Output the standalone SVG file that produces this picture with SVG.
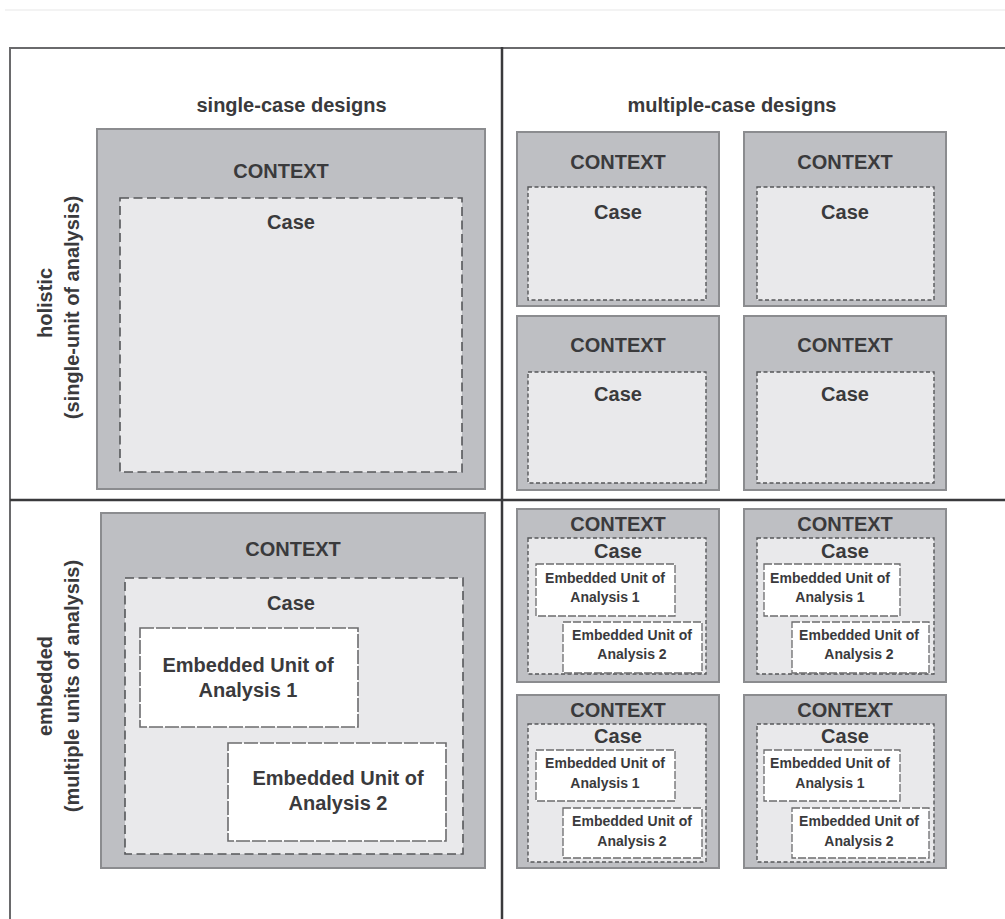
<svg xmlns="http://www.w3.org/2000/svg" width="1005" height="919" viewBox="0 0 1005 919">
  <style>
    .ctx { fill: #bebfc3; stroke: #8b8c8f; stroke-width: 2; }
    .case { fill: #e9e9eb; stroke: #56575a; stroke-width: 1.6; stroke-dasharray: 9 4.5; }
    .case-s { fill: #e9e9eb; stroke: #56575a; stroke-width: 1.4; stroke-dasharray: 4 2.5; }
    .eu { fill: #ffffff; stroke: #6c6c6e; stroke-width: 1.6; stroke-dasharray: 14 2; }
    .eu-s { fill: #ffffff; stroke: #6c6c6e; stroke-width: 1.3; stroke-dasharray: 8 2; }
    text { font-family: "Liberation Sans", Arial, sans-serif; font-weight: bold; fill: #3a3a3c; text-anchor: middle; }
    .t20 { font-size: 20px; }
    .t14 { font-size: 14px; }
    .frame { stroke: #6a6a6c; stroke-width: 2; fill: none; }
    .divider { stroke: #3a3a3c; stroke-width: 2.5; fill: none; }
  </style>

  <!-- page rule and grid frame -->
  <g id="grid">
    <line x1="5" y1="10" x2="1005" y2="10" stroke="#efefef" stroke-width="1.5"/>
    <line class="frame" x1="10" y1="48" x2="1005" y2="48"/>
    <line class="frame" x1="10" y1="47" x2="10" y2="919"/>
    <line class="divider" x1="502" y1="47" x2="502" y2="919"/>
    <line class="divider" x1="10" y1="500" x2="1005" y2="500"/>
  </g>

  <!-- axis labels -->
  <g id="labels">
    <text class="t20" x="291.5" y="112">single-case designs</text>
    <text class="t20" x="732" y="112">multiple-case designs</text>
    <text class="t20" transform="translate(51.5,303) rotate(-90)">holistic</text>
    <text class="t20" transform="translate(79,307.5) rotate(-90)">(single-unit of analysis)</text>
    <text class="t20" transform="translate(51.5,686) rotate(-90)">embedded</text>
    <text class="t20" transform="translate(79,686) rotate(-90)">(multiple units of analysis)</text>
  </g>

  <!-- holistic, single case -->
  <g id="holistic-single">
    <rect class="ctx" x="97" y="129" width="388" height="360"/>
    <text class="t20" x="281" y="178">CONTEXT</text>
    <rect class="case" x="120" y="198" width="342" height="274"/>
    <text class="t20" x="291" y="229">Case</text>
  </g>

  <!-- holistic, multiple cases -->
  <g id="holistic-multi-1">
    <rect class="ctx" x="517" y="132" width="202" height="174"/>
    <text class="t20" x="618" y="169">CONTEXT</text>
    <rect class="case-s" x="528" y="187" width="178" height="113"/>
    <text class="t20" x="618" y="219">Case</text>
  </g>
  <g id="holistic-multi-2">
    <rect class="ctx" x="744" y="132" width="202" height="174"/>
    <text class="t20" x="845" y="169">CONTEXT</text>
    <rect class="case-s" x="757" y="187" width="177" height="113"/>
    <text class="t20" x="845" y="219">Case</text>
  </g>
  <g id="holistic-multi-3">
    <rect class="ctx" x="517" y="316" width="202" height="174"/>
    <text class="t20" x="618" y="352">CONTEXT</text>
    <rect class="case-s" x="528" y="372" width="178" height="111"/>
    <text class="t20" x="618" y="401">Case</text>
  </g>
  <g id="holistic-multi-4">
    <rect class="ctx" x="744" y="316" width="202" height="174"/>
    <text class="t20" x="845" y="352">CONTEXT</text>
    <rect class="case-s" x="757" y="372" width="177" height="111"/>
    <text class="t20" x="845" y="401">Case</text>
  </g>

  <!-- embedded, single case -->
  <g id="embedded-single">
    <rect class="ctx" x="101" y="513" width="384" height="355"/>
    <text class="t20" x="293" y="556">CONTEXT</text>
    <rect class="case" x="125" y="578" width="338" height="276"/>
    <text class="t20" x="291" y="610">Case</text>
    <rect class="eu" x="140" y="628" width="218" height="99"/>
    <text class="t20" x="248" y="672">Embedded Unit of</text>
    <text class="t20" x="248" y="697">Analysis 1</text>
    <rect class="eu" x="228" y="743" width="218" height="98"/>
    <text class="t20" x="338" y="785">Embedded Unit of</text>
    <text class="t20" x="338" y="810">Analysis 2</text>
  </g>

  <!-- embedded, multiple cases -->
  <g id="embedded-multi-1">
    <rect class="ctx" x="517" y="509" width="202" height="173"/>
    <text class="t20" x="618" y="531">CONTEXT</text>
    <rect class="case-s" x="528" y="538" width="178" height="136"/>
    <text class="t20" x="618" y="558">Case</text>
    <rect class="eu-s" x="536" y="564" width="139" height="52"/>
    <text class="t14" x="605" y="583">Embedded Unit of</text>
    <text class="t14" x="605" y="602">Analysis 1</text>
    <rect class="eu-s" x="563" y="622" width="139" height="51"/>
    <text class="t14" x="632" y="640">Embedded Unit of</text>
    <text class="t14" x="632" y="659">Analysis 2</text>
  </g>
  <g id="embedded-multi-2">
    <rect class="ctx" x="744" y="509" width="202" height="173"/>
    <text class="t20" x="845" y="531">CONTEXT</text>
    <rect class="case-s" x="757" y="538" width="177" height="136"/>
    <text class="t20" x="845" y="558">Case</text>
    <rect class="eu-s" x="764" y="564" width="136" height="52"/>
    <text class="t14" x="830" y="583">Embedded Unit of</text>
    <text class="t14" x="830" y="602">Analysis 1</text>
    <rect class="eu-s" x="792" y="622" width="137" height="51"/>
    <text class="t14" x="859" y="640">Embedded Unit of</text>
    <text class="t14" x="859" y="659">Analysis 2</text>
  </g>
  <g id="embedded-multi-3">
    <rect class="ctx" x="517" y="695" width="202" height="173"/>
    <text class="t20" x="618" y="717">CONTEXT</text>
    <rect class="case-s" x="528" y="724" width="178" height="138"/>
    <text class="t20" x="618" y="743">Case</text>
    <rect class="eu-s" x="536" y="750" width="139" height="51"/>
    <text class="t14" x="605" y="768">Embedded Unit of</text>
    <text class="t14" x="605" y="788">Analysis 1</text>
    <rect class="eu-s" x="563" y="808" width="139" height="50"/>
    <text class="t14" x="632" y="826">Embedded Unit of</text>
    <text class="t14" x="632" y="846">Analysis 2</text>
  </g>
  <g id="embedded-multi-4">
    <rect class="ctx" x="744" y="695" width="202" height="173"/>
    <text class="t20" x="845" y="717">CONTEXT</text>
    <rect class="case-s" x="757" y="724" width="177" height="138"/>
    <text class="t20" x="845" y="743">Case</text>
    <rect class="eu-s" x="764" y="750" width="136" height="51"/>
    <text class="t14" x="830" y="768">Embedded Unit of</text>
    <text class="t14" x="830" y="788">Analysis 1</text>
    <rect class="eu-s" x="792" y="808" width="137" height="50"/>
    <text class="t14" x="859" y="826">Embedded Unit of</text>
    <text class="t14" x="859" y="846">Analysis 2</text>
  </g>
</svg>
